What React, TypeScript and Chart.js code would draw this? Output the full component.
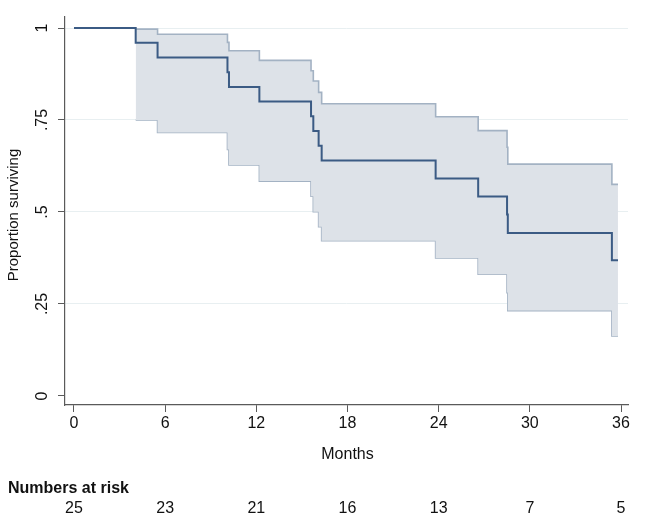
import React, { useEffect, useRef } from "react";
import { Chart, registerables } from "chart.js";

Chart.register(...registerables);

// Kaplan-Meier estimate (months, proportion surviving)
const kmTimes = [0, 4.06, 5.5, 10.1, 10.2, 12.2, 15.6, 15.75, 16.1, 16.3, 23.8, 26.6, 28.5, 28.55, 35.4, 35.8];
const kmSurvival = [1, 0.96, 0.92, 0.88, 0.84, 0.8, 0.76, 0.72, 0.68, 0.64, 0.591, 0.542, 0.493, 0.443, 0.369, 0.369];

// 95% confidence band
const ciTimes = [4.06, 5.5, 10.1, 10.2, 12.2, 15.6, 15.75, 16.1, 16.3, 23.8, 26.6, 28.5, 28.55, 35.4, 35.8];
const ciUpper = [0.997, 0.983, 0.961, 0.938, 0.912, 0.884, 0.856, 0.825, 0.794, 0.759, 0.721, 0.676, 0.63, 0.575, 0.575];
const ciLower = [0.75, 0.716, 0.67, 0.628, 0.584, 0.543, 0.501, 0.46, 0.422, 0.375, 0.331, 0.281, 0.232, 0.163, 0.163];

// Axes
const xTickValues = [0, 6, 12, 18, 24, 30, 36];
const xTickLabels = ["0", "6", "12", "18", "24", "30", "36"];
const yTickValues = [0, 0.25, 0.5, 0.75, 1];
const yTickLabels = ["0", ".25", ".5", ".75", "1"];

// Risk table
const riskTimes = [0, 6, 12, 18, 24, 30, 36];
const numbersAtRisk = [25, 23, 21, 16, 13, 7, 5];

const FONT = "'Liberation Sans', Arial, sans-serif";
const AXIS_COLOR = "#5a5a5a";

const textPlugin = {
  id: "kmText",
  afterDraw(chart: any) {
    const ctx = chart.ctx as CanvasRenderingContext2D;
    const xs = chart.scales.x;
    const ys = chart.scales.y;
    ctx.save();
    ctx.fillStyle = "#111";
    ctx.font = `16px ${FONT}`;
    ctx.textAlign = "center";
    ctx.textBaseline = "alphabetic";
    xTickValues.forEach((v, i) => {
      ctx.fillText(xTickLabels[i], xs.getPixelForValue(v), 428);
    });
    ctx.fillText("Months", xs.getPixelForValue(18), 459);

    // y tick labels, rotated
    yTickValues.forEach((v, i) => {
      ctx.save();
      ctx.translate(47, ys.getPixelForValue(v));
      ctx.rotate(-Math.PI / 2);
      ctx.textAlign = "center";
      ctx.textBaseline = "alphabetic";
      ctx.fillText(yTickLabels[i], 0, 0);
      ctx.restore();
    });

    // y title
    ctx.save();
    ctx.font = `15px ${FONT}`;
    ctx.translate(18, (chart.chartArea.top + chart.chartArea.bottom) / 2 + 4);
    ctx.rotate(-Math.PI / 2);
    ctx.textAlign = "center";
    ctx.fillText("Proportion surviving", 0, 0);
    ctx.restore();

    // numbers at risk
    ctx.font = `bold 16px ${FONT}`;
    ctx.textAlign = "left";
    ctx.fillText("Numbers at risk", 8, 493);
    ctx.font = `16px ${FONT}`;
    ctx.textAlign = "center";
    riskTimes.forEach((t, i) => {
      ctx.fillText(String(numbersAtRisk[i]), xs.getPixelForValue(t), 513);
    });
    ctx.restore();
  },
};

export default function App() {
  const ref = useRef<HTMLCanvasElement>(null);
  useEffect(() => {
    if (!ref.current) return;
    const chart = new Chart(ref.current, {
      type: "line",
      data: {
        datasets: [
          {
            label: "Survival",
            data: kmTimes.map((t, i) => ({ x: t, y: kmSurvival[i] })),
            stepped: "before",
            borderColor: "#3b5b84",
            borderWidth: 2,
            pointRadius: 0,
            fill: false,
          },
          {
            label: "Upper",
            data: ciTimes.map((t, i) => ({ x: t, y: ciUpper[i] })),
            stepped: "before",
            borderColor: "#a3b2c3",
            borderWidth: 1.6,
            pointRadius: 0,
            backgroundColor: "#dde2e8",
            fill: "+1",
          },
          {
            label: "Lower",
            data: ciTimes.map((t, i) => ({ x: t, y: ciLower[i] })),
            stepped: "before",
            borderColor: "#a3b2c3",
            borderWidth: 1.6,
            pointRadius: 0,
            fill: false,
          },
        ],
      },
      options: {
        responsive: false,
        animation: false,
        devicePixelRatio: 1,
        layout: { padding: { left: 0, top: 17, right: 18, bottom: 104 } },
        plugins: { legend: { display: false }, tooltip: { enabled: false } },
        scales: {
          x: {
            type: "linear",
            min: -0.592,
            max: 36.46,
            afterBuildTicks: (s: any) => {
              s.ticks = xTickValues.map((v) => ({ value: v }));
            },
            afterFit: (s: any) => {
              s.height = 10;
            },
            ticks: { display: false },
            grid: {
              drawOnChartArea: false,
              drawTicks: true,
              tickLength: 7,
              tickColor: AXIS_COLOR,
              color: AXIS_COLOR,
            },
            border: { display: true, color: AXIS_COLOR, width: 1.2 },
          },
          y: {
            type: "linear",
            min: -0.0245,
            max: 1.0299,
            afterBuildTicks: (s: any) => {
              s.ticks = yTickValues.map((v) => ({ value: v }));
            },
            afterFit: (s: any) => {
              s.width = 65;
            },
            ticks: { display: false },
            grid: {
              drawOnChartArea: true,
              drawTicks: true,
              tickLength: 7,
              tickColor: AXIS_COLOR,
              color: (c: any) => (c.tick && c.tick.value === 0 ? "rgba(0,0,0,0)" : "#e8eff1"),
              lineWidth: 1,
            },
            border: { display: true, color: AXIS_COLOR, width: 1.2 },
          },
        },
      },
      plugins: [textPlugin],
    } as any);
    return () => chart.destroy();
  }, []);
  return (
    <div style={{ position: "fixed", left: 0, top: 0, width: 646, height: 519, background: "#fff" }}>
      <canvas ref={ref} width={646} height={519} style={{ display: "block", width: 646, height: 519 }} />
    </div>
  );
}
